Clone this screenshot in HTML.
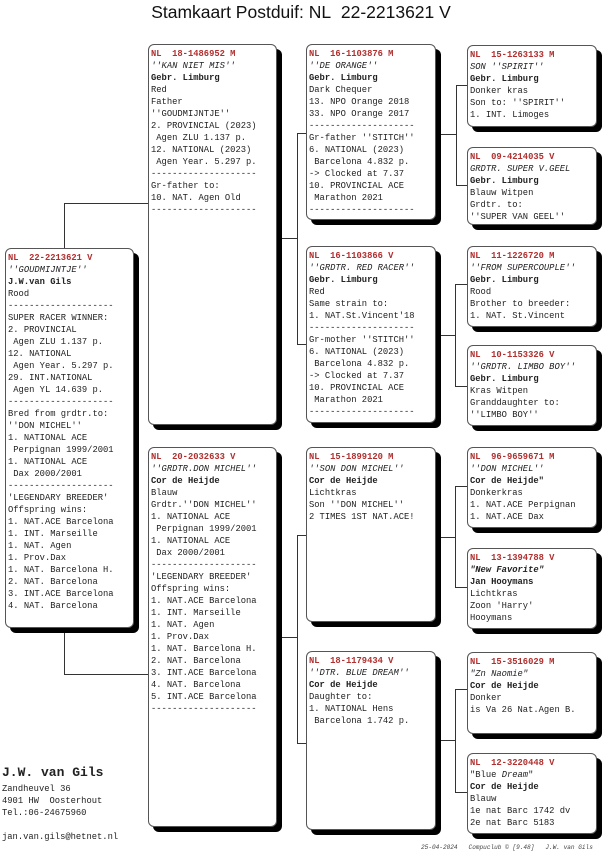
<!DOCTYPE html>
<html><head><meta charset="utf-8"><style>
body{margin:0;width:602px;height:864px;background:#fff;position:relative;overflow:hidden;font-family:"Liberation Mono",monospace;}
.t{position:absolute;left:0;top:0;width:602px;text-align:center;font-family:"Liberation Sans",sans-serif;font-size:17.5px;line-height:22px;top:1px;color:#111}
.b{position:absolute;box-sizing:border-box;border:1px solid #555;border-radius:6px;background:#fff;box-shadow:5px 5px 0 #000;padding:3px 2px 0 2px;font-size:8.8px;line-height:12px;color:#222;white-space:pre;overflow:hidden}
.b .h{color:#b03030;font-weight:bold}
.b .i{font-style:italic}
.b .k{font-weight:bold}
.l{position:absolute;background:#333}
.f{position:absolute;font-size:8.8px;line-height:12px;color:#222;white-space:pre}
</style></head><body>
<div class="t">Stamkaart Postduif: NL&nbsp; 22-2213621 V</div>

<!-- connectors -->
<div class="l" style="left:64px;top:203px;width:1px;height:46px"></div>
<div class="l" style="left:64px;top:203px;width:84px;height:1px"></div>
<div class="l" style="left:64px;top:633px;width:1px;height:41px"></div>
<div class="l" style="left:64px;top:674px;width:84px;height:1px"></div>

<div class="l" style="left:282px;top:238px;width:15px;height:1px"></div>
<div class="l" style="left:297px;top:133px;width:1px;height:212px"></div>
<div class="l" style="left:297px;top:133px;width:9px;height:1px"></div>
<div class="l" style="left:297px;top:344px;width:9px;height:1px"></div>

<div class="l" style="left:282px;top:637px;width:15px;height:1px"></div>
<div class="l" style="left:297px;top:535px;width:1px;height:209px"></div>
<div class="l" style="left:297px;top:535px;width:9px;height:1px"></div>
<div class="l" style="left:297px;top:743px;width:9px;height:1px"></div>

<div class="l" style="left:441px;top:134px;width:15px;height:1px"></div>
<div class="l" style="left:456px;top:85px;width:1px;height:101px"></div>
<div class="l" style="left:456px;top:85px;width:11px;height:1px"></div>
<div class="l" style="left:456px;top:185px;width:11px;height:1px"></div>

<div class="l" style="left:441px;top:335px;width:15px;height:1px"></div>
<div class="l" style="left:455px;top:284px;width:1px;height:103px"></div>
<div class="l" style="left:455px;top:284px;width:12px;height:1px"></div>
<div class="l" style="left:455px;top:386px;width:12px;height:1px"></div>

<div class="l" style="left:441px;top:537px;width:15px;height:1px"></div>
<div class="l" style="left:455px;top:486px;width:1px;height:102px"></div>
<div class="l" style="left:455px;top:486px;width:12px;height:1px"></div>
<div class="l" style="left:455px;top:587px;width:12px;height:1px"></div>

<div class="l" style="left:441px;top:740px;width:15px;height:1px"></div>
<div class="l" style="left:455px;top:689px;width:1px;height:104px"></div>
<div class="l" style="left:455px;top:689px;width:12px;height:1px"></div>
<div class="l" style="left:455px;top:792px;width:12px;height:1px"></div>

<!-- root -->
<div class="b" style="left:5px;top:248px;width:129px;height:380px"><span class="h">NL  22-2213621 V</span>
<span class="i">''GOUDMIJNTJE''</span>
<span class="k">J.W.van Gils</span>
Rood
--------------------
SUPER RACER WINNER:
2. PROVINCIAL
 Agen ZLU 1.137 p.
12. NATIONAL
 Agen Year. 5.297 p.
29. INT.NATIONAL
 Agen YL 14.639 p.
--------------------
Bred from grdtr.to:
''DON MICHEL''
1. NATIONAL ACE
 Perpignan 1999/2001
1. NATIONAL ACE
 Dax 2000/2001
--------------------
'LEGENDARY BREEDER'
Offspring wins:
1. NAT.ACE Barcelona
1. INT. Marseille
1. NAT. Agen
1. Prov.Dax
1. NAT. Barcelona H.
2. NAT. Barcelona
3. INT.ACE Barcelona
4. NAT. Barcelona</div>

<!-- sire -->
<div class="b" style="left:148px;top:44px;width:129px;height:381px"><span class="h">NL  18-1486952 M</span>
<span class="i">''KAN NIET MIS''</span>
<span class="k">Gebr. Limburg</span>
Red
Father
''GOUDMIJNTJE''
2. PROVINCIAL (2023)
 Agen ZLU 1.137 p.
12. NATIONAL (2023)
 Agen Year. 5.297 p.
--------------------
Gr-father to:
10. NAT. Agen Old
--------------------</div>

<!-- dam -->
<div class="b" style="left:148px;top:447px;width:129px;height:380px"><span class="h">NL  20-2032633 V</span>
<span class="i">''GRDTR.DON MICHEL''</span>
<span class="k">Cor de Heijde</span>
Blauw
Grdtr.''DON MICHEL''
1. NATIONAL ACE
 Perpignan 1999/2001
1. NATIONAL ACE
 Dax 2000/2001
--------------------
'LEGENDARY BREEDER'
Offspring wins:
1. NAT.ACE Barcelona
1. INT. Marseille
1. NAT. Agen
1. Prov.Dax
1. NAT. Barcelona H.
2. NAT. Barcelona
3. INT.ACE Barcelona
4. NAT. Barcelona
5. INT.ACE Barcelona
--------------------</div>

<!-- col3 -->
<div class="b" style="left:306px;top:44px;width:130px;height:176px"><span class="h">NL  16-1103876 M</span>
<span class="i">''DE ORANGE''</span>
<span class="k">Gebr. Limburg</span>
Dark Chequer
13. NPO Orange 2018
33. NPO Orange 2017
--------------------
Gr-father ''STITCH''
6. NATIONAL (2023)
 Barcelona 4.832 p.
-&gt; Clocked at 7.37
10. PROVINCIAL ACE
 Marathon 2021
--------------------</div>
<div class="b" style="left:306px;top:246px;width:130px;height:177px"><span class="h">NL  16-1103866 V</span>
<span class="i">''GRDTR. RED RACER''</span>
<span class="k">Gebr. Limburg</span>
Red
Same strain to:
1. NAT.St.Vincent'18
--------------------
Gr-mother ''STITCH''
6. NATIONAL (2023)
 Barcelona 4.832 p.
-&gt; Clocked at 7.37
10. PROVINCIAL ACE
 Marathon 2021
--------------------</div>
<div class="b" style="left:306px;top:447px;width:130px;height:175px"><span class="h">NL  15-1899120 M</span>
<span class="i">''SON DON MICHEL''</span>
<span class="k">Cor de Heijde</span>
Lichtkras
Son ''DON MICHEL''
2 TIMES 1ST NAT.ACE!</div>
<div class="b" style="left:306px;top:651px;width:130px;height:179px"><span class="h">NL  18-1179434 V</span>
<span class="i">''DTR. BLUE DREAM''</span>
<span class="k">Cor de Heijde</span>
Daughter to:
1. NATIONAL Hens
 Barcelona 1.742 p.</div>

<!-- col4 -->
<div class="b" style="left:467px;top:45px;width:130px;height:82px"><span class="h">NL  15-1263133 M</span>
<span class="i">SON ''SPIRIT''</span>
<span class="k">Gebr. Limburg</span>
Donker kras
Son to: ''SPIRIT''
1. INT. Limoges</div>
<div class="b" style="left:467px;top:147px;width:130px;height:78px"><span class="h">NL  09-4214035 V</span>
<span class="i">GRDTR. SUPER V.GEEL</span>
<span class="k">Gebr. Limburg</span>
Blauw Witpen
Grdtr. to:
''SUPER VAN GEEL''</div>
<div class="b" style="left:467px;top:246px;width:130px;height:81px"><span class="h">NL  11-1226720 M</span>
<span class="i">''FROM SUPERCOUPLE''</span>
<span class="k">Gebr. Limburg</span>
Rood
Brother to breeder:
1. NAT. St.Vincent</div>
<div class="b" style="left:467px;top:345px;width:130px;height:81px"><span class="h">NL  10-1153326 V</span>
<span class="i">''GRDTR. LIMBO BOY''</span>
<span class="k">Gebr. Limburg</span>
Kras Witpen
Granddaughter to:
''LIMBO BOY''</div>
<div class="b" style="left:467px;top:447px;width:130px;height:81px"><span class="h">NL  96-9659671 M</span>
<span class="i">''DON MICHEL''</span>
<span class="k">Cor de Heijde"</span>
Donkerkras
1. NAT.ACE Perpignan
1. NAT.ACE Dax</div>
<div class="b" style="left:467px;top:548px;width:130px;height:81px"><span class="h">NL  13-1394788 V</span>
<span class="i k">"New Favorite"</span>
<span class="k">Jan Hooymans</span>
Lichtkras
Zoon 'Harry'
Hooymans</div>
<div class="b" style="left:467px;top:652px;width:130px;height:82px"><span class="h">NL  15-3516029 M</span>
<span class="i">"Zn Naomie"</span>
<span class="k">Cor de Heijde</span>
Donker
is Va 26 Nat.Agen B.</div>
<div class="b" style="left:467px;top:753px;width:130px;height:81px"><span class="h">NL  12-3220448 V</span>
"Blue <span class="i">Dream</span>"
<span class="k">Cor de Heijde</span>
Blauw
1e nat Barc 1742 dv
2e nat Barc 5183</div>

<!-- footer -->
<div class="f" style="left:2px;top:765px;font-size:13px;line-height:16px;font-weight:bold">J.W. van Gils</div>
<div class="f" style="left:2px;top:783px">Zandheuvel 36
4901 HW  Oosterhout
Tel.:06-24675960</div>
<div class="f" style="left:2px;top:831px">jan.van.gils@hetnet.nl</div>
<div class="f" style="left:421px;top:844px;font-size:6.1px;line-height:8px;font-style:italic;color:#444">25-04-2024   Compuclub © [9.48]   J.W. van Gils</div>
</body></html>
